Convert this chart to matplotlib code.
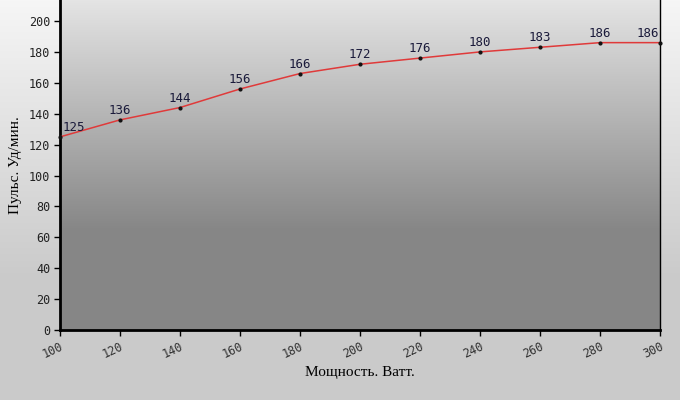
import numpy as np
import matplotlib
matplotlib.use("Agg")
import matplotlib.pyplot as plt

power = [100, 120, 140, 160, 180, 200, 220, 240, 260, 280, 300]
pulse = [125, 136, 144, 156, 166, 172, 176, 180, 183, 186, 186]
yticks = [0, 20, 40, 60, 80, 100, 120, 140, 160, 180, 200]

fig = plt.figure(figsize=(6.8, 4.0), dpi=100)

# figure background gradient
bg = fig.add_axes([0, 0, 1, 1], zorder=-10)
g = np.clip(np.linspace(0, 1, 400) / 0.7, 0, 1)
col = 246 - (246 - 202) * g
bg.imshow(np.repeat(col[:, None], 2, axis=1)[:, :, None].repeat(3, axis=2) / 255,
          aspect="auto", extent=[0, 1, 0, 1], origin="upper")
bg.axis("off")

ax = fig.add_axes([60 / 680, 70 / 400, 600 / 680, 330 / 400])
ax.set_facecolor("none")

# plot area gradient
t = np.clip(np.linspace(0, 1, 330) / 0.70, 0, 1)
pc = 228 - (228 - 134) * t
img = np.repeat(pc[:, None], 2, axis=1)[:, :, None].repeat(3, axis=2) / 255
ax.imshow(img, aspect="auto", extent=[100, 300, 0, 213.6], origin="upper", zorder=0)

ax.plot(power, pulse, color="#e03a3a", lw=1.1, zorder=3, clip_on=False)
ax.plot(power, pulse, "o", color="#111111", ms=2, zorder=4, clip_on=False)

for i, (x, y) in enumerate(zip(power, pulse)):
    ha = "center"
    dx = 0
    if i == 0:
        ha, dx = "left", 2
    elif i == len(power) - 1:
        ha, dx = "right", -1
    ax.annotate(str(y), (x, y), xytext=(dx, 2), textcoords="offset points",
                ha=ha, va="bottom", fontsize=9, family="DejaVu Sans Mono",
                color="#1a1a3a", zorder=5)

ax.set_xlim(100, 300)
ax.set_ylim(0, 213.6)
ax.set_xticks(power)
ax.set_yticks(yticks)
ax.set_xticklabels([str(p) for p in power], rotation=25, ha="right",
                   rotation_mode="anchor", family="DejaVu Sans Mono",
                   fontsize=8.5, color="#333333")
ax.set_yticklabels([str(v) for v in yticks], family="DejaVu Sans Mono",
                   fontsize=8.5, color="#222222")
ax.tick_params(direction="out", length=4, width=1, color="black", pad=3)

ax.spines["top"].set_visible(False)
ax.spines["left"].set_linewidth(2)
ax.spines["bottom"].set_linewidth(2)
ax.spines["right"].set_linewidth(1)

ax.set_xlabel("Мощность. Ватт.", family="Liberation Serif", fontsize=11, labelpad=4)
ax.set_ylabel("Пульс. Уд/мин.", family="Liberation Serif", fontsize=11, labelpad=5)

fig.savefig("out.png", dpi=100)
